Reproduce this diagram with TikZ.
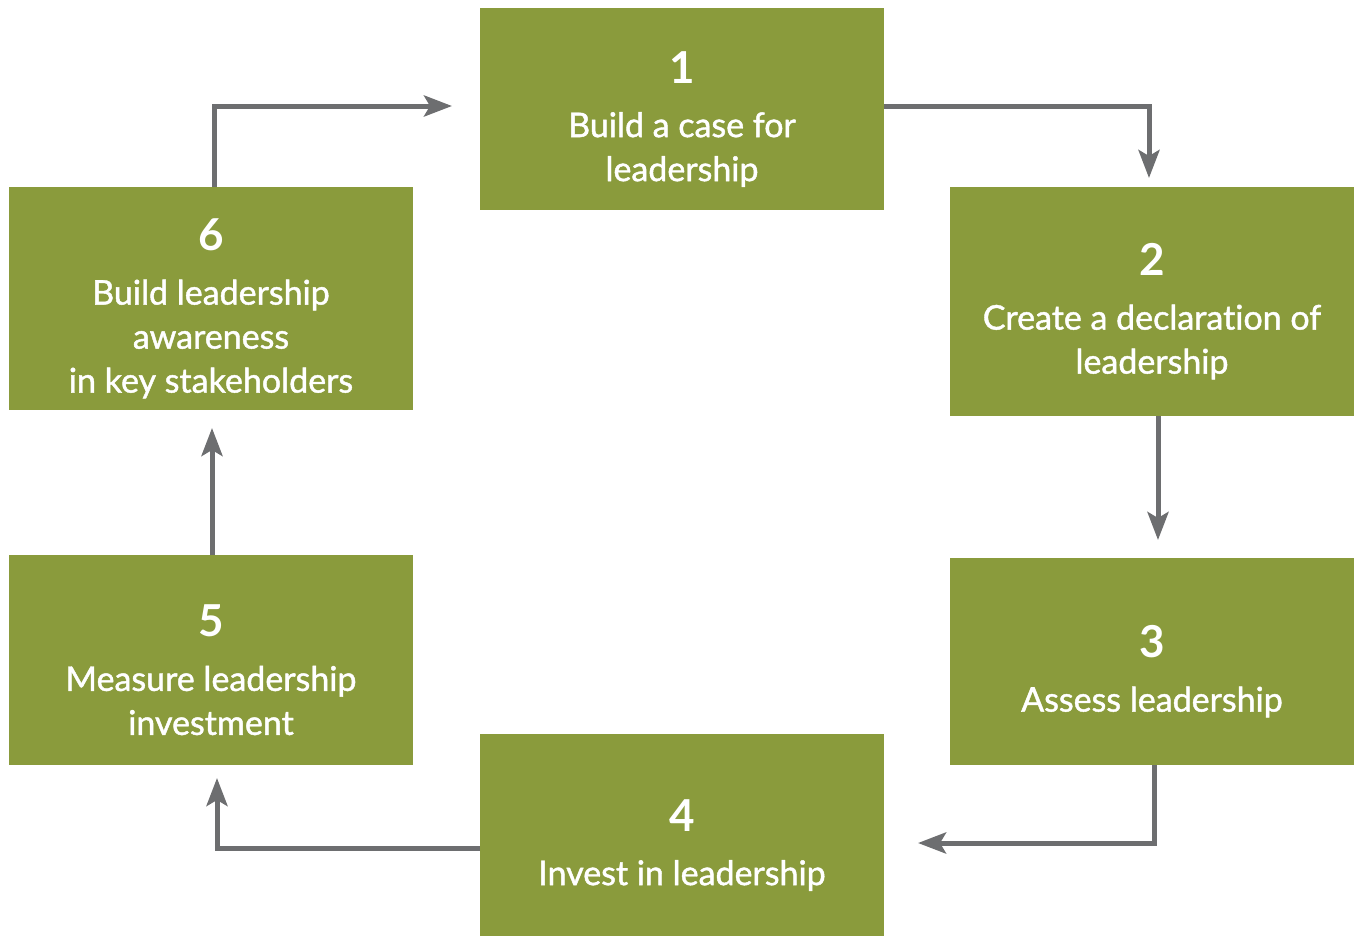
\documentclass[tikz,border=0pt]{standalone}
\usepackage{fontspec}
\setmainfont{Lato}[Ligatures=NoCommon]
\newfontface\textface{Lato}[Ligatures=NoCommon, FakeBold=1.3]
\usetikzlibrary{arrows.meta}
\definecolor{boxgreen}{RGB}{138,155,60}
\definecolor{arrgray}{RGB}{109,110,112}
\tikzset{
  stepbox/.style={fill=boxgreen, draw=none, inner sep=0pt, minimum width=404pt, text=white,
    align=center, font=\fontsize{34}{44}\textface},
  arr/.style={draw=arrgray, line width=5pt, -{Stealth[length=28pt,width=21pt,inset=6pt]}}
}
\newcommand{\stepnum}[1]{{\fontsize{44}{44}\rmfamily\bfseries\rule{0pt}{52pt}#1}\\[10pt]}
\begin{document}
\begin{tikzpicture}[x=1pt,y=-1pt]
\useasboundingbox (0,0) rectangle (1357,937);
\node[stepbox, minimum height=202pt] (b1) at (682,109) {\stepnum{1}Build a case for\\leadership};
\node[stepbox, minimum height=229pt] (b2) at (1152,301.5) {\stepnum{2}Create a declaration of\\leadership};
\node[stepbox, minimum height=207pt] (b3) at (1152,661.5) {\stepnum{3}Assess leadership};
\node[stepbox, minimum height=202pt] (b4) at (682,835) {\stepnum{4}Invest in leadership};
\node[stepbox, minimum height=210pt] (b5) at (211,660) {\stepnum{5}Measure leadership\\investment};
\node[stepbox, minimum height=223pt] (b6) at (211,298.5) {\stepnum{6}Build leadership\\awareness\\in key stakeholders};
% arrow coordinates
\coordinate (s12) at (884,106);
\coordinate (t12) at (1149,178);
\coordinate (s23) at (1158,416);
\coordinate (t23) at (1158,540);
\coordinate (s34) at (1154,765);
\coordinate (t34) at (918,843);
\coordinate (s45) at (480,848);
\coordinate (t45) at (217,778);
\coordinate (s56) at (212,555);
\coordinate (t56) at (212,428);
\coordinate (s61) at (214,187);
\coordinate (t61) at (452,106);
\draw[arr] (s12) -| (t12);
\draw[arr] (s23) -- (t23);
\draw[arr] (s34) |- (t34);
\draw[arr] (s45) -| (t45);
\draw[arr] (s56) -- (t56);
\draw[arr] (s61) |- (t61);
\end{tikzpicture}
\end{document}
